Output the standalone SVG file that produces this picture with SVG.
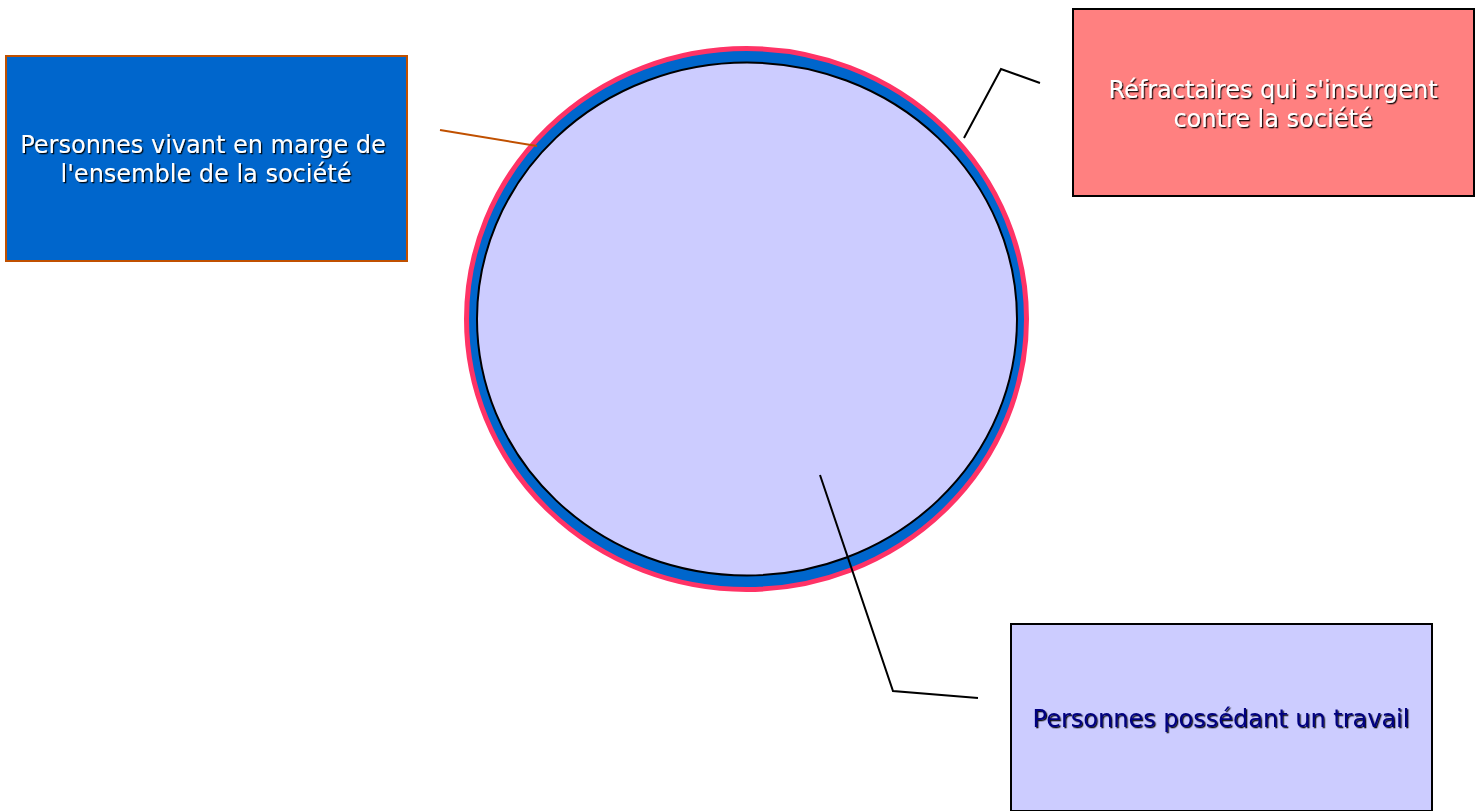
<svg xmlns="http://www.w3.org/2000/svg" width="1484" height="811" viewBox="0 0 1484 811">
<defs>
<filter id="sh" x="-5%" y="-20%" width="110%" height="140%">
<feDropShadow dx="1.3" dy="1.3" stdDeviation="0.3" flood-color="#000" flood-opacity="0.9"/>
</filter>
</defs>
<style>
.lbl{font-family:"DejaVu Sans",Verdana,sans-serif;font-size:24px;text-anchor:middle;filter:url(#sh)}
.w{fill:#ffffff}
.n{fill:#000080}
.con{fill:none;stroke-width:2}
</style>
<rect width="1484" height="811" fill="#ffffff"/>
<g id="circle">
<ellipse cx="746.5" cy="319" rx="280" ry="270.5" fill="#0066CC" stroke="#FF3366" stroke-width="5"/>
<ellipse cx="747" cy="319" rx="270" ry="256.5" fill="#CCCCFF" stroke="#000" stroke-width="2"/>
</g>
<g id="connectors">
<line class="con" x1="440" y1="130" x2="537" y2="146" stroke="#C05000"/>
<polyline class="con" points="964,138 1001,69 1040,83" stroke="#000"/>
<polyline class="con" points="820,475 893,691 978,698" stroke="#000"/>
</g>
<g id="marge">
<rect x="6" y="56" width="401" height="205" fill="#0066CC" stroke="#C05000" stroke-width="2"/>
<text class="lbl w" x="203" y="153">Personnes vivant en marge de</text>
<text class="lbl w" x="206" y="182">l'ensemble de la société</text>
</g>
<g id="refractaires">
<rect x="1073" y="9" width="401" height="187" fill="#FF8080" stroke="#000" stroke-width="2"/>
<text class="lbl w" x="1273" y="98">Réfractaires qui s'insurgent</text>
<text class="lbl w" x="1273" y="127">contre la société</text>
</g>
<g id="travail">
<rect x="1011" y="624" width="421" height="187" fill="#CCCCFF" stroke="#000" stroke-width="2"/>
<text class="lbl n" x="1221" y="727">Personnes possédant un travail</text>
</g>
</svg>
